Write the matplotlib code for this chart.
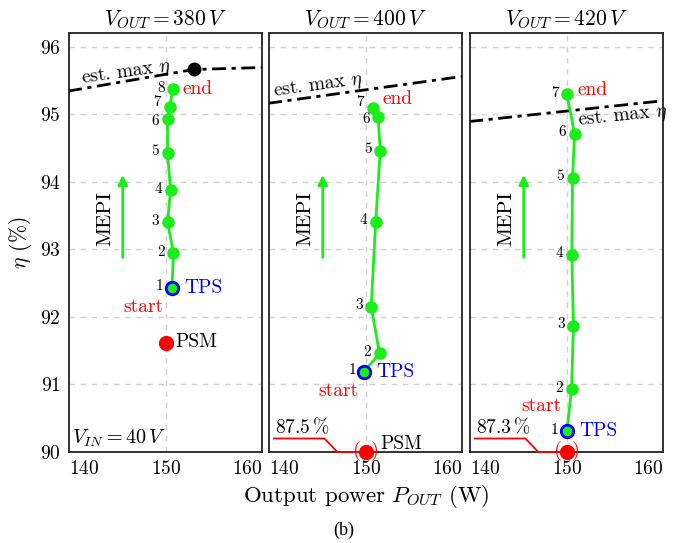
import matplotlib
matplotlib.use("Agg")
import matplotlib.pyplot as plt

plt.rcParams['font.family'] = 'serif'
plt.rcParams['font.serif'] = ['cmr10', 'DejaVu Serif']
plt.rcParams['mathtext.fontset'] = 'cm'
plt.rcParams['axes.formatter.use_mathtext'] = True

# ---------------- data ----------------
vout_titles = [r'$V_{OUT} = 380\,V$', r'$V_{OUT} = 400\,V$', r'$V_{OUT} = 420\,V$']

P380 = [150.74, 150.93, 150.2, 150.57, 150.2, 150.2, 150.45, 150.86]
E380 = [92.43, 92.94, 93.40, 93.87, 94.43, 94.93, 95.10, 95.37]
P400 = [149.8, 151.67, 150.65, 151.2, 151.76, 151.5, 150.82]
E400 = [91.19, 91.46, 92.15, 93.41, 94.46, 94.96, 95.09]
P420 = [150.0, 150.57, 150.8, 150.6, 150.69, 150.94, 150.0]
E420 = [90.31, 90.93, 91.87, 92.92, 94.06, 94.71, 95.29]

psm_P = [150.0, 150.0, 150.0]
psm_E = [91.62, 90.0, 90.0]
psm_true = [None, r'$87.5\,\%$', r'$87.3\,\%$']

est_P380 = [138.0, 153.4, 162.0]
est_E380 = [95.34, 95.66, 95.69]
est_P400 = [138.0, 162.0]
est_E400 = [95.16, 95.56]
est_P420 = [138.0, 162.0]
est_E420 = [94.89, 95.20]
est_best = (153.4, 95.66)

xticks = [140, 150, 160]
yticks = [90, 91, 92, 93, 94, 95, 96]

P_all = [P380, P400, P420]
E_all = [E380, E400, E420]
est_P = [est_P380, est_P400, est_P420]
est_E = [est_E380, est_E400, est_E420]

GREEN = '#19ee19'
W, H = 678, 543
fig = plt.figure(figsize=(W / 100, H / 100), dpi=100)

# small vertical nudges for crowded point numbers: (panel, index) -> dy in points
nudges = {(0, 5): -2.5, (0, 6): 2.5, (1, 5): -3, (1, 6): 3}

lefts = [69, 269, 470]
axw = 193
top, bot = 33, 452
axes = []
for i in range(3):
    ax = fig.add_axes([lefts[i] / W, 1 - bot / H, axw / W, (bot - top) / H])
    axes.append(ax)
    ax.set_xlim(138.1, 161.8)
    ax.set_ylim(90, 96.2)
    ax.set_xticks(xticks)
    ax.set_yticks(yticks)
    ax.tick_params(length=0, labelsize=14, pad=6)
    if i > 0:
        ax.set_yticklabels([])
    ax.grid(axis='y', color='#d0d0d0', linestyle=(0, (4, 4)), linewidth=1)
    ax.axvline(150, color='#d0d0d0', linestyle=(0, (4, 4)), linewidth=1, zorder=0)
    for s in ax.spines.values():
        s.set_linewidth(1.3)
        s.set_color('#222222')
    ax.set_title(vout_titles[i], fontsize=15.5, pad=6)

    # est max eta line
    ax.plot(est_P[i], est_E[i], color='black', linestyle=(0, (5, 2, 1.5, 2)),
            linewidth=2, zorder=3)

    # trajectory
    P, E = P_all[i], E_all[i]
    ax.plot(P, E, color=GREEN, linewidth=2, marker='o', markersize=8,
            markeredgecolor=GREEN, zorder=4)
    ax.plot(P[0], E[0], 'o', color=GREEN, markersize=9, markeredgecolor='blue',
            markeredgewidth=2, zorder=5)
    for k, (p, e) in enumerate(zip(P, E)):
        dy = nudges.get((i, k), 0)
        ax.annotate(str(k + 1), (p, e), xytext=(-6, 1 + dy), textcoords='offset points',
                    ha='right', va='center', fontsize=11)

    # MEPI arrow
    ax.annotate('', xy=(144.7, 94.1), xytext=(144.7, 92.88),
                arrowprops=dict(arrowstyle='-|>', color=GREEN, lw=2,
                                mutation_scale=14, shrinkA=0, shrinkB=0))
    ax.text(142.6, 93.45, 'MEPI', rotation=90, ha='center', va='center', fontsize=15)

# annotations panel 1
ax = axes[0]
ax.plot(est_best[0], est_best[1], 'o', color='black', markersize=9, zorder=5)
ax.text(139.5, 95.6, r'est. max $\eta$', rotation=8, ha='left', va='center', fontsize=14)
ax.text(152.0, E380[-1], 'end', color='red', ha='left', va='center', fontsize=14)
ax.text(149.7, 92.15, 'start', color='red', ha='right', va='center', fontsize=14)
ax.text(152.2, E380[0], 'TPS', color='blue', ha='left', va='center', fontsize=14)
ax.plot(psm_P[0], psm_E[0], 'o', color='red', markersize=10, zorder=5)
ax.text(151.2, psm_E[0], 'PSM', color='black', ha='left', va='center', fontsize=14)
ax.text(138.5, 90.2, r'$V_{IN} = 40\,V$', ha='left', va='center', fontsize=14.5)

# panel 2
ax = axes[1]
ax.text(138.5, 95.42, r'est. max $\eta$', rotation=8, ha='left', va='center', fontsize=14)
ax.text(152.0, 95.22, 'end', color='red', ha='left', va='center', fontsize=14)
ax.text(149.1, 90.9, 'start', color='red', ha='right', va='center', fontsize=14)
ax.text(151.3, E400[0], 'TPS', color='blue', ha='left', va='center', fontsize=14)
ax.text(151.8, 90.12, 'PSM', color='black', ha='left', va='center', fontsize=14)

# panel 3
ax = axes[2]
ax.text(151.2, 94.97, r'est. max $\eta$', rotation=6, ha='left', va='center', fontsize=14)
ax.text(151.3, 95.36, 'end', color='red', ha='left', va='center', fontsize=14)
ax.text(149.3, 90.68, 'start', color='red', ha='right', va='center', fontsize=14)
ax.text(151.5, E420[0], 'TPS', color='blue', ha='left', va='center', fontsize=14)

# PSM points clipped at bottom (panels 2,3)
for i in (1, 2):
    ax = axes[i]
    ax.plot(psm_P[i], psm_E[i], 'o', color='red', markersize=10, clip_on=False, zorder=6)
    ax.text(psm_P[i] - 1.15, psm_E[i] + 0.01, '(', color='red', ha='center', va='center',
            fontsize=15, clip_on=False, zorder=7)
    ax.text(psm_P[i] + 1.15, psm_E[i] + 0.01, ')', color='red', ha='center', va='center',
            fontsize=15, clip_on=False, zorder=7)
    ax.plot([138.7, 144.9, 146.5, 149.3], [90.2, 90.2, psm_E[i], psm_E[i]],
            color='red', linewidth=1.3, clip_on=False, zorder=5)
    ax.text(138.8, 90.37, psm_true[i], ha='left', va='center', fontsize=14)

axes[0].set_ylabel(r'$\eta$ (%)', fontsize=15.5, labelpad=4)
fig.text(366 / W, 1 - 497 / H, r'Output power $P_{OUT}$ (W)', ha='center', va='center',
         fontsize=16.5)
fig.text(344 / W, 1 - 530 / H, '(b)', ha='center', va='center', fontsize=13,
         family='Liberation Serif')

fig.savefig('out.png', dpi=100)
